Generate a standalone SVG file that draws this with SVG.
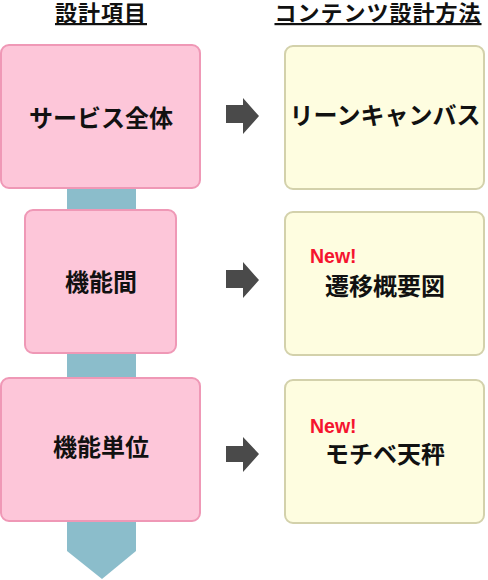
<svg xmlns="http://www.w3.org/2000/svg" width="488" height="580" viewBox="0 0 488 580">
<style>
.t{font-family:"Noto Sans CJK JP","Noto Sans CJK SC",sans-serif;font-weight:bold;font-size:24px;fill:#111;text-anchor:middle}
.h{font-family:"Noto Sans CJK JP","Noto Sans CJK SC",sans-serif;font-weight:bold;font-size:22px;letter-spacing:1px;fill:#111;text-anchor:middle;text-decoration:underline}
.new{font-family:"Liberation Sans",Arial,sans-serif;font-weight:bold;font-size:19.5px;fill:#f5142e}
.pk{fill:#fdc6d9;stroke:#ef98b6;stroke-width:2}
.yl{fill:#fefde0;stroke:#d3d1ab;stroke-width:2}
.ar{fill:#4a4a4a}
</style>
<rect width="488" height="580" fill="#fff"/>
<g id="headers">
<text class="h" x="101" y="21">設計項目</text>
<text class="h" x="378" y="21">コンテンツ設計方法</text>
</g>
<g id="connectors">
<polygon points="67,150 136,150 136,551 102,579 67,551" fill="#8bbdcb"/>
<polygon class="ar" points="226,105 243,105 243,98 259,116 243,134 243,123 226,123"/>
<polygon class="ar" points="226,270 243,270 243,262 259,280 243,298 243,288 226,288"/>
<polygon class="ar" points="226,446 243,446 243,437 259,454 243,472 243,462 226,462"/>
</g>
<g id="n1">
<rect class="pk" x="1" y="45" width="199" height="143" rx="8"/>
<text class="t" x="101" y="127">サービス全体</text>
</g>
<g id="n2">
<rect class="pk" x="25" y="210" width="151" height="143" rx="8"/>
<text class="t" x="101" y="291">機能間</text>
</g>
<g id="n3">
<rect class="pk" x="1" y="378" width="199" height="143" rx="8"/>
<text class="t" x="101" y="456">機能単位</text>
</g>
<g id="r1">
<rect class="yl" x="285" y="46" width="199" height="143" rx="8"/>
<text class="t" x="385" y="124">リーンキャンバス</text>
</g>
<g id="r2">
<rect class="yl" x="285" y="212" width="199" height="143" rx="8"/>
<text class="new" x="310" y="263">New!</text>
<text class="t" x="385" y="295">遷移概要図</text>
</g>
<g id="r3">
<rect class="yl" x="285" y="380" width="199" height="143" rx="8"/>
<text class="new" x="310" y="433">New!</text>
<text class="t" x="385" y="463">モチベ天秤</text>
</g>
</svg>
